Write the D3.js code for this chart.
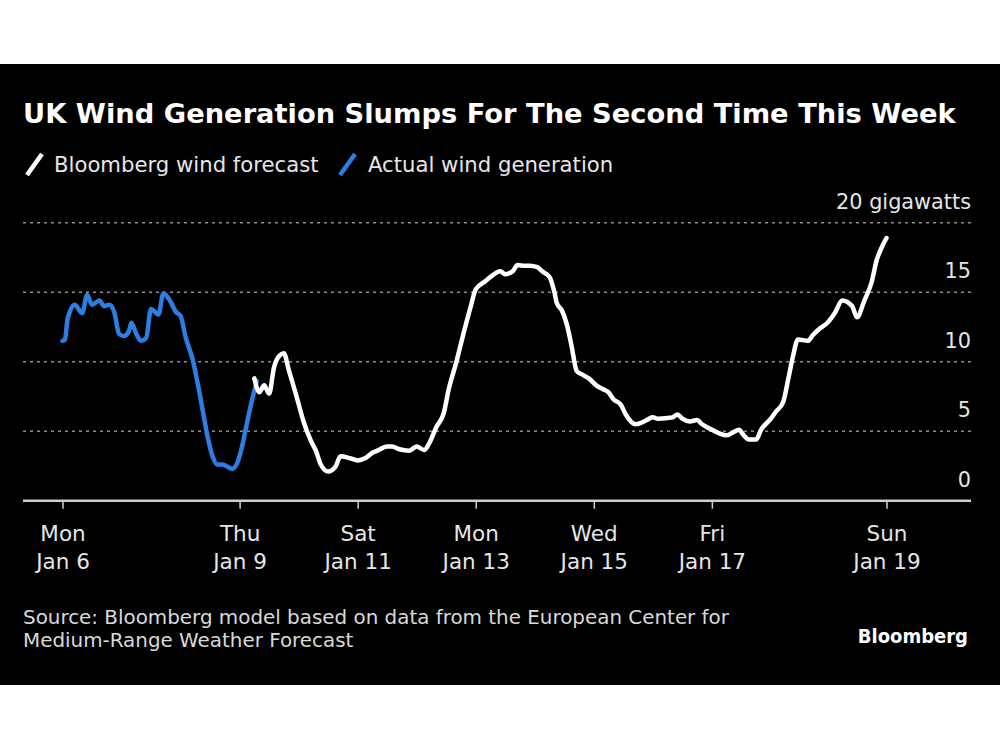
<!DOCTYPE html>
<html>
<head>
<meta charset="utf-8">
<script src="https://cdn.jsdelivr.net/npm/d3@7"></script>
<style>
  html, body { margin: 0; padding: 0; background: #fff; }
  svg { display: block; }
  text { font-family: "DejaVu Sans", sans-serif; }
</style>
</head>
<body>
<svg id="chart" width="1000" height="750"></svg>
<script>
// ---------- DATA ----------
const startTime = "2025-01-06T00:00:00";

// Actual wind generation (blue), hours since start / gigawatts
const actualHours = [0, 1, 2, 3, 5, 8, 10, 12, 15, 17, 19, 21, 23, 25, 27, 28, 30, 32, 34, 36, 39, 41, 44, 46, 48, 50, 53, 55, 57, 59, 61, 63, 65, 67, 69, 71, 73, 75, 77, 79];
const actualGW    = [11.5, 11.6, 13.0, 13.6, 14.1, 13.5, 14.8, 14.1, 14.4, 14.0, 14.1, 13.6, 12.0, 11.85, 12.2, 12.8, 12.0, 11.5, 11.7, 13.8, 13.4, 14.9, 14.3, 13.6, 13.3, 11.8, 10.1, 8.4, 6.5, 4.6, 3.2, 2.6, 2.6, 2.45, 2.3, 2.7, 3.9, 5.6, 7.2, 8.6];

// Bloomberg wind forecast (white), hours since start / gigawatts
const forecastHours = [78, 80, 82, 84, 86, 88, 90, 92, 95, 98, 101, 103, 105, 108, 111, 113, 117, 120, 123, 126, 128, 132, 134, 137, 141, 144, 147, 149, 152, 155, 157, 160, 163, 166, 168, 172, 174, 178, 180, 183, 185, 188, 190, 193, 195, 198, 200, 201, 203, 205, 207, 209, 211, 214, 217, 220, 222, 224, 227, 229, 233, 237, 240, 242, 246, 248, 250, 252, 255, 258, 260, 263, 267, 270, 273, 275, 277, 279, 282, 284, 288, 290, 293, 295, 297, 299, 303, 305, 308, 311, 314, 317, 321, 323, 326, 329, 331, 333, 335];
const forecastGW    = [8.8, 7.8, 8.3, 7.7, 9.6, 10.4, 10.6, 9.4, 7.6, 5.7, 4.3, 3.6, 2.6, 2.1, 2.45, 3.2, 3.05, 2.9, 3.05, 3.45, 3.6, 3.9, 3.9, 3.7, 3.6, 3.9, 3.65, 4.1, 5.3, 6.3, 8.0, 9.9, 12.0, 14.0, 15.2, 15.8, 16.1, 16.5, 16.3, 16.5, 16.95, 16.9, 16.9, 16.8, 16.5, 16.1, 15.0, 14.2, 13.7, 12.7, 11.1, 9.35, 9.1, 8.8, 8.3, 8.0, 7.8, 7.3, 6.9, 6.2, 5.5, 5.75, 6.0, 5.9, 5.95, 6.0, 6.2, 5.9, 5.7, 5.8, 5.5, 5.2, 4.85, 4.7, 4.95, 5.1, 4.7, 4.4, 4.4, 5.1, 5.9, 6.4, 7.1, 8.7, 10.4, 11.6, 11.5, 11.9, 12.4, 12.8, 13.5, 14.4, 14.0, 13.2, 14.4, 15.75, 17.3, 18.2, 18.9];

// Axis ticks
const xTickTimes = ["2025-01-06T00:00:00", "2025-01-09T00:00:00", "2025-01-11T00:00:00", "2025-01-13T00:00:00", "2025-01-15T00:00:00", "2025-01-17T00:00:00", "2025-01-19T23:00:00"];
const xTickDays  = ["Mon", "Thu", "Sat", "Mon", "Wed", "Fri", "Sun"];
const xTickDates = ["Jan 6", "Jan 9", "Jan 11", "Jan 13", "Jan 15", "Jan 17", "Jan 19"];
const yTicks = [0, 5, 10, 15, 20];

// Texts
const titleText = "UK Wind Generation Slumps For The Second Time This Week";
const legendLabels = ["Bloomberg wind forecast", "Actual wind generation"];
const unitLabel = "gigawatts";
const sourceLines = ["Source: Bloomberg model based on data from the European Center for", "Medium-Range Weather Forecast"];
const brand = "Bloomberg";

// ---------- DRAW ----------
const BLUE = "#2d7de3";
const WHITE = "#ffffff";
const svg = d3.select("#chart");

svg.append("rect").attr("x", 0).attr("y", 64).attr("width", 1000).attr("height", 621).attr("fill", "#000");

const t0 = new Date(startTime);
const hourToDate = h => new Date(t0.getTime() + h * 3600 * 1000);

const x = d3.scaleTime()
  .domain([t0, new Date(xTickTimes[xTickTimes.length - 1])])
  .range([62.5, 886.5]);
const y = d3.scaleLinear().domain([0, 20]).range([500.7, 222.7]);

const plotLeft = 23, plotRight = 971;

// gridlines
svg.append("g").selectAll("line").data(yTicks.filter(d => d > 0)).join("line")
  .attr("x1", plotLeft).attr("x2", plotRight)
  .attr("y1", d => y(d)).attr("y2", d => y(d))
  .attr("stroke", "#8c8c8c").attr("stroke-width", 1.6)
  .attr("stroke-dasharray", "3,4");

// y labels
svg.append("g").selectAll("text").data(yTicks).join("text")
  .attr("x", plotRight).attr("y", d => y(d) - 14)
  .attr("text-anchor", "end").attr("fill", "#e6e6e6")
  .attr("font-size", 20.8)
  .text(d => d === 20 ? d + " " + unitLabel : d);

// x axis
const xAxis = d3.axisBottom(x)
  .tickValues(xTickTimes.map(s => new Date(s)))
  .tickSize(8).tickFormat("");
const gx = svg.append("g").attr("transform", `translate(0,${y(0)})`).call(xAxis);
gx.select(".domain").remove();
gx.selectAll(".tick line").attr("stroke", "#d0d0d0").attr("stroke-width", 1.5);
svg.append("line").attr("x1", plotLeft).attr("x2", plotRight)
  .attr("y1", y(0)).attr("y2", y(0)).attr("stroke", "#cfcfcf").attr("stroke-width", 2.5);

gx.selectAll(".tick").each(function(d, i) {
  const g = d3.select(this);
  g.append("text").attr("y", 40).attr("text-anchor", "middle").attr("fill", "#e6e6e6")
    .attr("font-size", 21.5).text(xTickDays[i]);
  g.append("text").attr("y", 68).attr("text-anchor", "middle").attr("fill", "#e6e6e6")
    .attr("font-size", 21.5).text(xTickDates[i]);
});

// lines
const line = d3.line().x(d => x(d.t)).y(d => y(d.v)).curve(d3.curveMonotoneX);
const actual = actualHours.map((h, i) => ({ t: hourToDate(h), v: actualGW[i] }));
const forecast = forecastHours.map((h, i) => ({ t: hourToDate(h), v: forecastGW[i] }));

svg.append("path").datum(actual).attr("d", line)
  .attr("fill", "none").attr("stroke", BLUE).attr("stroke-width", 4.5)
  .attr("stroke-linejoin", "round").attr("stroke-linecap", "round");
svg.append("path").datum(forecast).attr("d", line)
  .attr("fill", "none").attr("stroke", WHITE).attr("stroke-width", 4.5)
  .attr("stroke-linejoin", "round").attr("stroke-linecap", "round");

// title
svg.append("text").attr("x", 23).attr("y", 123).attr("fill", "#fff")
  .attr("font-size", 27.3).attr("font-weight", "bold").text(titleText);

// legend
const legendX = [27, 340];
const legendTextX = [54, 368];
const legendColors = [WHITE, BLUE];
legendLabels.forEach((lab, i) => {
  svg.append("line")
    .attr("x1", legendX[i]).attr("y1", 175).attr("x2", legendX[i] + 15).attr("y2", 154)
    .attr("stroke", legendColors[i]).attr("stroke-width", 4.5);
  svg.append("text").attr("x", legendTextX[i]).attr("y", 172).attr("fill", "#e6e6e6")
    .attr("font-size", 21.2).text(lab);
});

// footer
sourceLines.forEach((s, i) => {
  svg.append("text").attr("x", 23).attr("y", 624 + i * 23).attr("fill", "#d9d9d9")
    .attr("font-size", 19.9).text(s);
});
svg.append("text").attr("x", 968).attr("y", 643).attr("text-anchor", "end")
  .attr("fill", "#fff").attr("font-size", 20).attr("font-weight", "bold")
  .style("font-family", "'DejaVu Sans Condensed', 'DejaVu Sans', sans-serif").text(brand);
</script>
</body>
</html>
